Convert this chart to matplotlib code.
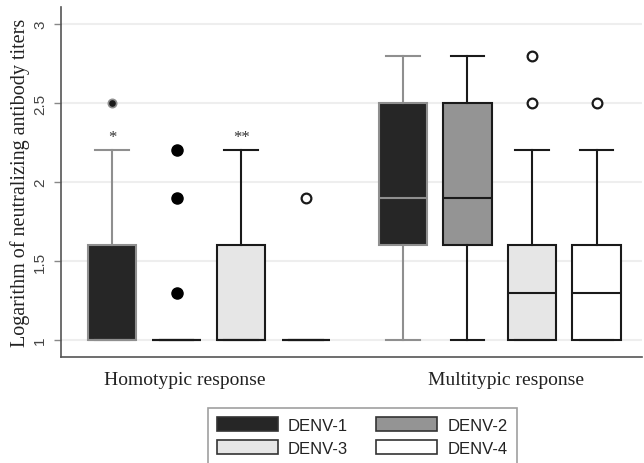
import matplotlib
matplotlib.use("Agg")
import matplotlib.pyplot as plt
from matplotlib.patches import Patch

# ---- data ----
groups = ["Homotypic response", "Multitypic response"]
serotypes = ["DENV-1", "DENV-2", "DENV-3", "DENV-4"]

homo_whislo = [1.0, 1.0, 1.0, 1.0]
homo_q1 = [1.0, 1.0, 1.0, 1.0]
homo_med = [1.0, 1.0, 1.0, 1.0]
homo_q3 = [1.6, 1.0, 1.6, 1.0]
homo_whishi = [2.2, 1.0, 2.2, 1.0]
homo_fliers = [[2.5], [2.2, 1.9, 1.3], [], [1.9]]

multi_whislo = [1.0, 1.0, 1.0, 1.0]
multi_q1 = [1.6, 1.6, 1.0, 1.0]
multi_med = [1.9, 1.9, 1.3, 1.3]
multi_q3 = [2.5, 2.5, 1.6, 1.6]
multi_whishi = [2.8, 2.8, 2.2, 2.2]
multi_fliers = [[], [], [2.8, 2.5], [2.5]]

homo_marks = ["*", "", "**", ""]

yticks = [1, 1.5, 2, 2.5, 3]
ytick_labels = ["1", "1.5", "2", "2.5", "3"]

# ---- styles ----
fills = ["#262626", "#949494", "#e6e6e6", "#ffffff"]
edges = ["#8f8f8f", "#1a1a1a", "#1a1a1a", "#1a1a1a"]

fig = plt.figure(figsize=(6.44, 4.64), dpi=100)
ax = fig.add_axes([0.0947, 0.228, 0.902, 0.755])

serif = ["Liberation Serif", "DejaVu Serif"]
sans = ["Liberation Sans", "DejaVu Sans"]

stats = []
positions = []
colors_f = []
colors_e = []
homo_pos = [0, 1, 2, 3]
multi_pos = [4.5, 5.5, 6.5, 7.5]
for i in range(4):
    stats.append(dict(whislo=homo_whislo[i], q1=homo_q1[i], med=homo_med[i],
                      q3=homo_q3[i], whishi=homo_whishi[i], fliers=homo_fliers[i]))
    positions.append(homo_pos[i])
    colors_f.append(fills[i]); colors_e.append(edges[i])
for i in range(4):
    stats.append(dict(whislo=multi_whislo[i], q1=multi_q1[i], med=multi_med[i],
                      q3=multi_q3[i], whishi=multi_whishi[i], fliers=multi_fliers[i]))
    positions.append(multi_pos[i])
    colors_f.append(fills[i]); colors_e.append(edges[i])

bp = ax.bxp(stats, positions=positions, widths=0.75, patch_artist=True,
            showfliers=True, manage_ticks=False)

flier_style = {
    0: dict(marker="o", mfc="#1a1a1a", mec="#8f8f8f", ms=6, mew=1.2),
    1: dict(marker="o", mfc="#000000", mec="#000000", ms=8, mew=1),
    3: dict(marker="o", mfc="white", mec="#1a1a1a", ms=7, mew=1.6),
}
for k in range(8):
    i = k % 4
    box = bp["boxes"][k]
    box.set_facecolor(colors_f[k])
    box.set_edgecolor(colors_e[k])
    box.set_linewidth(1.5)
    bp["medians"][k].set_color(colors_e[k])
    bp["medians"][k].set_linewidth(1.5)
    for w in bp["whiskers"][2 * k:2 * k + 2]:
        w.set_color(colors_e[k]); w.set_linewidth(1.5)
    for c in bp["caps"][2 * k:2 * k + 2]:
        c.set_color(colors_e[k]); c.set_linewidth(1.5)
        x0, x1 = c.get_xdata()
        cx = (x0 + x1) / 2
        c.set_xdata([cx - 0.26, cx + 0.26])
    fl = bp["fliers"][k]
    st = flier_style.get(i, flier_style[3])
    fl.set_marker(st["marker"]); fl.set_markerfacecolor(st["mfc"])
    fl.set_markeredgecolor(st["mec"]); fl.set_markersize(st["ms"])
    fl.set_markeredgewidth(st["mew"])

for i in range(4):
    if homo_marks[i]:
        ax.text(homo_pos[i], homo_whishi[i] + 0.035, homo_marks[i], ha="center",
                va="bottom", fontsize=12, color="#333333", family=serif)

ax.set_xlim(-0.79, 8.2)
ax.set_ylim(0.892, 3.108)
ax.set_yticks(yticks)
ax.set_yticklabels(ytick_labels, rotation=90, va="center", family=sans,
                   fontsize=11, color="#444444")
# group labels sit slightly apart from the exact group centres, as in the original
ax.set_xticks([1.13, 6.1])
ax.set_xticklabels(groups, family=serif, fontsize=14, color="#222222")
ax.tick_params(axis="x", length=0, pad=10)
ax.tick_params(axis="y", length=5, color="#888888", width=1, pad=5)
ax.set_ylabel("Logarithm of neutralizing antibody titers", family=serif,
              fontsize=14.5, color="#222222", labelpad=2.5)
ax.yaxis.grid(True, color="#eeeeee", linewidth=1.5)
ax.set_axisbelow(True)
for s in ["top", "right"]:
    ax.spines[s].set_visible(False)
for s in ["left", "bottom"]:
    ax.spines[s].set_color("#555555")
    ax.spines[s].set_linewidth(1.2)

order = [0, 2, 1, 3]
handles = [Patch(facecolor=fills[i], edgecolor="#333333", linewidth=1.2,
                 label=serotypes[i]) for i in order]
leg = fig.legend(handles=handles, ncol=2, loc="upper center",
                 bbox_to_anchor=(0.5625, 0.1185), borderaxespad=0,
                 frameon=True, fancybox=False,
                 edgecolor="#888888", handlelength=3.65,
                 handleheight=0.9, columnspacing=1.7, labelspacing=0.42,
                 borderpad=0.55, handletextpad=0.6,
                 prop={"family": sans, "size": 12})
leg.get_frame().set_linewidth(1.2)
for t in leg.get_texts():
    t.set_color("#222222")

fig.savefig("out.png", dpi=100)
